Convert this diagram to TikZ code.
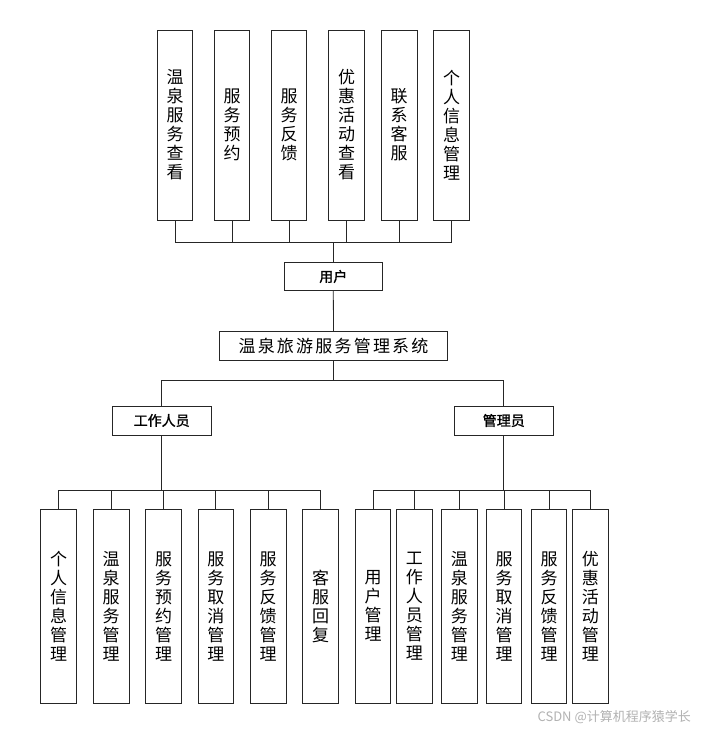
\documentclass[tikz,border=0pt]{standalone}
\usepackage{fontspec}
\setmainfont{Liberation Sans}
\newfontfamily\cjk{Noto Sans CJK SC}
\newfontfamily\cjkmed[FakeBold=1.3]{Noto Sans CJK SC}
\begin{document}
\begin{tikzpicture}[x=1pt,y=-1pt,
  vbox/.style={draw=black!85,line width=0.8pt,minimum width=35.5pt,inner sep=0pt,align=center,
     font=\cjk\fontsize{17}{19}\selectfont},
  hbox/.style={draw=black!85,line width=0.8pt,inner sep=0pt,minimum height=29pt,font=\cjkmed\fontsize{14}{16}\selectfont},
  conn/.style={draw=black!85,line width=0.8pt}]
\useasboundingbox (0,0) rectangle (702,730);
\fill[white] (0,0) rectangle (702,730);
% top row
\foreach \n/\x/\t in {t1/175/{温\\泉\\服\\务\\查\\看},t2/232/{服\\务\\预\\约},t3/289/{服\\务\\反\\馈},
  t4/346.5/{优\\惠\\活\\动\\查\\看},t5/399.2/{联\\系\\客\\服},t6/451.5/{个\\人\\信\\息\\管\\理}}
  \node[vbox,minimum height=190pt] (\n) at (\x,125) {\t};
\node[hbox,minimum width=98pt,minimum height=28.5pt] (user) at (333.3,276.5) {用户};
\node[hbox,minimum width=228.4pt,font=\cjk\fontsize{17}{19}\selectfont\addfontfeature{LetterSpace=13}] (sys) at (333.5,346.3) {温泉旅游服务管理系统};
\node[hbox,minimum width=98.7pt] (staff) at (161.7,420.5) {工作人员};
\node[hbox,minimum width=99pt] (admin) at (503.8,420.5) {管理员};
% bottom left
\foreach \n/\x/\t in {l1/58.5/{个\\人\\信\\息\\管\\理},l2/111.2/{温\\泉\\服\\务\\管\\理},l3/163.5/{服\\务\\预\\约\\管\\理},
  l4/215.8/{服\\务\\取\\消\\管\\理},l5/268.2/{服\\务\\反\\馈\\管\\理},l6/320.5/{客\\服\\回\\复}}
  \node[vbox,minimum height=194pt] (\n) at (\x,606.3) {\t};
% bottom right
\foreach \n/\x/\t in {r1/373/{用\\户\\管\\理},r2/414.3/{工\\作\\人\\员\\管\\理},r3/459.3/{温\\泉\\服\\务\\管\\理},
  r4/504/{服\\务\\取\\消\\管\\理},r5/549/{服\\务\\反\\馈\\管\\理},r6/590.3/{优\\惠\\活\\动\\管\\理}}
  \node[vbox,minimum height=194pt] (\n) at (\x,606.3) {\t};
% connectors
\coordinate (jt) at (333.3,242.3);
\foreach \n in {t1,t2,t3,t4,t5,t6} \draw[conn] (\n.south) |- (jt);
\draw[conn] (jt) -- (user.north);
\draw[conn] (user.south) -- (sys.north);
\coordinate (js) at (333.5,380.3);
\draw[conn] (sys.south) -- (js);
\draw[conn] (js) -| (staff.north);
\draw[conn] (js) -| (admin.north);
\coordinate (jl) at (161.7,490.5);
\draw[conn] (staff.south) -- (jl);
\foreach \n in {l1,l2,l3,l4,l5,l6} \draw[conn] (jl) -| (\n.north);
\coordinate (jr) at (503.8,490.5);
\draw[conn] (admin.south) -- (jr);
\foreach \n in {r1,r2,r3,r4,r5,r6} \draw[conn] (jr) -| (\n.north);
% watermark
\node[anchor=east,text=black!30,inner sep=0pt,font=\cjk\fontsize{13}{15}\selectfont] (wm) at (691,717) {CSDN @计算机程序猿学长};
\end{tikzpicture}
\end{document}
